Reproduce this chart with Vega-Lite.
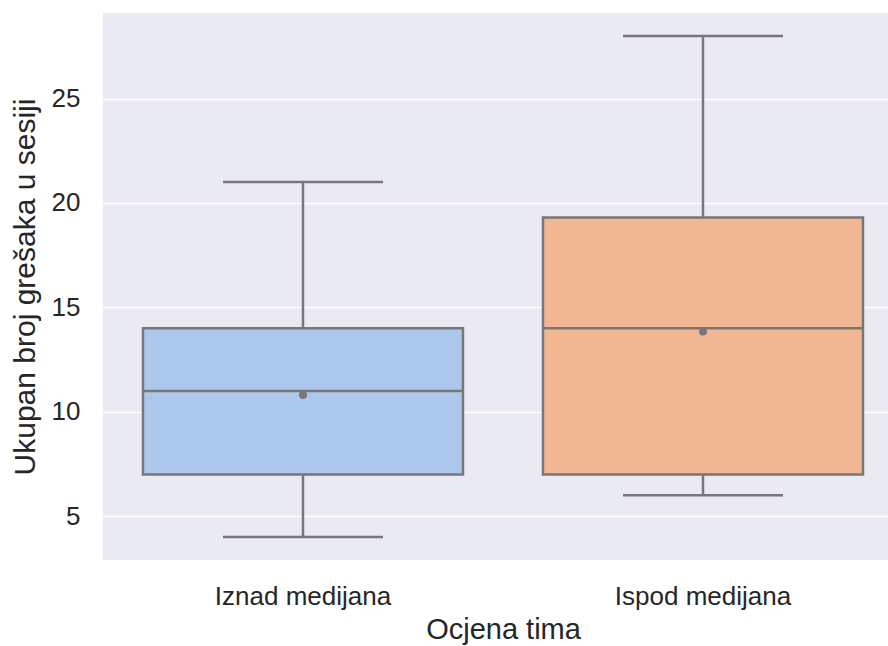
{
  "$schema": "https://vega.github.io/schema/vega-lite/v6.json",
  "width": 800,
  "height": 547,
  "autosize": {"type": "none"},
  "padding": {"left": 103, "top": 13, "right": 0, "bottom": 86},
  "background": "white",
  "config": {
    "view": {"fill": "#eaeaf2", "stroke": null},
    "font": "Arial",
    "axis": {"labelFont": "Liberation Sans", "titleFont": "Liberation Sans", "labelColor": "#262626", "titleColor": "#262626", "titleFontWeight": "normal", "domain": false, "ticks": false}
  },
  "data": {
    "values": [
      {"group": "Iznad medijana", "min": 4, "q1": 7, "median": 11, "q3": 14, "max": 21, "mean": 10.8},
      {"group": "Ispod medijana", "min": 6, "q1": 7, "median": 14, "q3": 19.3, "max": 28, "mean": 13.85}
    ]
  },
  "encoding": {
    "x": {
      "field": "group", "type": "nominal", "sort": ["Iznad medijana", "Ispod medijana"],
      "scale": {"paddingInner": 0, "paddingOuter": 0},
      "axis": {"title": "Ocjena tima", "labelAngle": 0, "labelFontSize": 26, "titleFontSize": 29, "labelPadding": 23, "titlePadding": 6, "grid": false}
    }
  },
  "layer": [
    {
      "mark": {"type": "rule", "color": "#777777", "strokeWidth": 2.5},
      "encoding": {
        "y": {"field": "min", "type": "quantitative", "scale": {"domain": [2.9, 29.1], "nice": false, "zero": false},
          "axis": {"title": "Ukupan broj grešaka u sesiji", "values": [5, 10, 15, 20, 25], "labelFontSize": 26, "titleFontSize": 30, "labelPadding": 23, "titlePadding": 11, "grid": true, "gridColor": "white", "gridWidth": 1.5}},
        "y2": {"field": "max"}
      }
    },
    {
      "mark": {"type": "bar", "stroke": "#777777", "strokeWidth": 2.5, "width": {"band": 0.8}},
      "encoding": {
        "y": {"field": "q1", "type": "quantitative"},
        "y2": {"field": "q3"},
        "color": {"field": "group", "type": "nominal", "sort": ["Iznad medijana", "Ispod medijana"], "scale": {"range": ["#abc8ec", "#f0b792"]}, "legend": null}
      }
    },
    {
      "mark": {"type": "tick", "color": "#777777", "thickness": 2.5, "size": 320, "opacity": 1},
      "encoding": {"y": {"field": "median", "type": "quantitative"}}
    },
    {
      "mark": {"type": "tick", "color": "#777777", "thickness": 2.5, "size": 160, "opacity": 1},
      "encoding": {"y": {"field": "min", "type": "quantitative"}}
    },
    {
      "mark": {"type": "tick", "color": "#777777", "thickness": 2.5, "size": 160, "opacity": 1},
      "encoding": {"y": {"field": "max", "type": "quantitative"}}
    },
    {
      "mark": {"type": "circle", "color": "#777777", "size": 64, "opacity": 1},
      "encoding": {"y": {"field": "mean", "type": "quantitative"}}
    }
  ]
}
